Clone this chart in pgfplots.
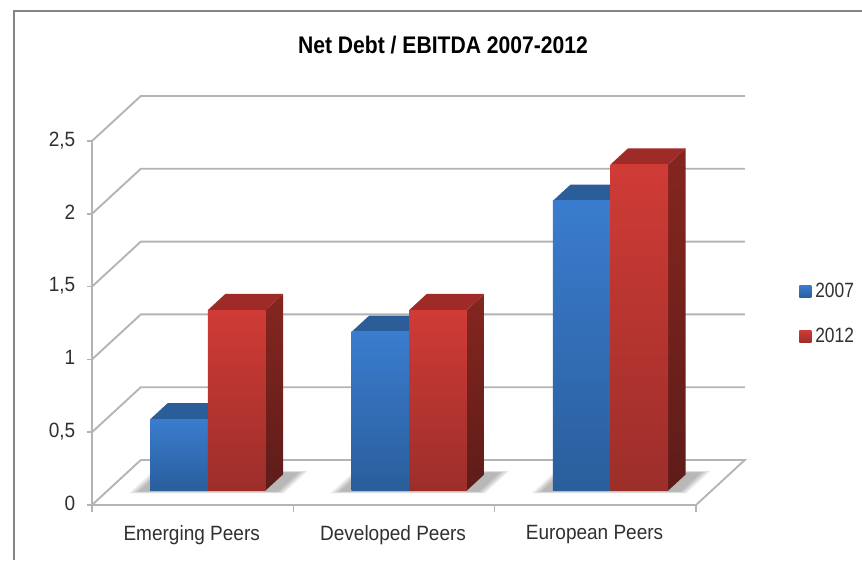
\documentclass[border=0pt]{standalone}
\usepackage{pgfplots}
\pgfplotsset{compat=1.18}
\usepackage{fontspec}
\setmainfont{Liberation Sans}
\newfontfamily\labelfont[FakeStretch=0.92]{Liberation Sans}
\newfontfamily\keyfont[FakeStretch=0.84]{Liberation Sans}
\newfontfamily\titlefont[FakeStretch=0.88]{Liberation Sans Bold}
\definecolor{gridgray}{HTML}{B4B4B4}
\definecolor{framegray}{HTML}{858585}
\definecolor{textgray}{HTML}{303030}
\definecolor{bluetop}{HTML}{3A7CCE}
\definecolor{bluebot}{HTML}{2A5E9C}
\definecolor{blueroof}{HTML}{2B5D98}
\definecolor{redtop}{HTML}{D03B36}
\definecolor{redbot}{HTML}{9C2E2A}
\definecolor{redroof}{HTML}{9E2B27}
\definecolor{sidetop}{HTML}{85261F}
\definecolor{sidebot}{HTML}{5E1C19}
% one pixel of the 862x560 canvas
\newlength{\px}\setlength{\px}{0.75pt}

% soft cast shadow on the floor between two x positions
\newcommand{\floorshadow}[2]{%
  \foreach \g in {0.000,0.008,0.016,0.024,0.032,0.040}{%
    \edef\temp{\noexpand\addplot3[forget plot, draw=none, fill=black, fill opacity=0.05]
      coordinates {(#1-\g,0.30-\g,0) (#2+\g,0.30-\g,0) (#2+\g,0.72+\g,0) (#1-\g,0.72+\g,0)} -- cycle;}%
    \temp
  }%
}
% one box: left x, right x, height, front top colour, roof colour,
% side top colour, side bottom colour, front bottom colour
\newcommand{\columnbox}[8]{%
  \addplot3[forget plot, draw=none, top color=#6, bottom color=#7]
    coordinates {(#2,0.32,0) (#2,0.68,0) (#2,0.68,#3) (#2,0.32,#3)} -- cycle;
  \addplot3[forget plot, draw=none, fill=#5]
    coordinates {(#1,0.32,#3) (#2,0.32,#3) (#2,0.68,#3) (#1,0.68,#3)} -- cycle;
  \addplot3[forget plot, draw=none, top color=#4, bottom color=#8]
    coordinates {(#1,0.32,0) (#2,0.32,0) (#2,0.32,#3) (#1,0.32,#3)} -- cycle;
}
\newcommand{\gridlevel}[1]{%
  \addplot3[forget plot, gridgray, line width=1.4pt]
    coordinates {(0,0,#1) (0,1,#1) (3,1,#1)};
}

\begin{document}
\begin{tikzpicture}[x=\px,y=\px]
\useasboundingbox (0,0) rectangle (862,560);
\fill[white] (0,0) rectangle (862,560);
\draw[framegray, line width=1.4pt] (14,0) -- (14,549) -- (862,549);
\node[font=\titlefont\fontsize{18pt}{20pt}\selectfont, text=black] at (443,514.5)
  {Net Debt / EBITDA 2007-2012};

\begin{axis}[
  at={(69pt,41.25pt)}, anchor=origin,
  x={(201.33*0.75pt,0pt)},
  y={(36.6pt,33.75pt)},
  z={(0pt,109.2pt)},
  xmin=0, xmax=3, ymin=0, ymax=1, zmin=0, zmax=2.5,
  clip=false,
  axis line style={draw=none},
  major tick style={draw=none},
  grid=none,
  xtick={0.5,1.5,2.5},
  xticklabels={Emerging Peers,Developed Peers,European Peers},
  ytick=\empty,
  ztick={0,0.5,1,1.5,2,2.5},
  zticklabels={0,{0,5},1,{1,5},2,{2,5}},
  tick label style={font=\labelfont\fontsize{15.5pt}{17pt}\selectfont, text=textgray},
  x tick label style={yshift=-12pt, xshift=4pt},
  z tick label style={xshift=-9pt, anchor=east, text height=11pt, text depth=3pt, yshift=0pt},
  legend style={draw=none, fill=none, at={(1.077,0.467)}, anchor=west,
    font=\keyfont\fontsize{15.5pt}{17pt}\selectfont, text=textgray,
    /tikz/every odd column/.append style={column sep=1pt},
    row sep=17pt},
  legend cell align=left,
]
% walls and floor
\addplot3[forget plot, gridgray, line width=1.4pt]
  coordinates {(0,1,0) (3,1,0) (3,0,0) (0,0,0) (0,1,0)};
\addplot3[forget plot, gridgray, line width=1.4pt]
  coordinates {(0,0,0) (0,0,2.5)};
\gridlevel{0.5}\gridlevel{1}\gridlevel{1.5}\gridlevel{2}\gridlevel{2.5}
% tick marks
\addplot3[forget plot, gridgray, line width=1.2pt] coordinates {(0,0,0) (0,0,-0.045)};
\addplot3[forget plot, gridgray, line width=1.2pt] coordinates {(1,0,0) (1,0,-0.045)};
\addplot3[forget plot, gridgray, line width=1.2pt] coordinates {(2,0,0) (2,0,-0.045)};
\addplot3[forget plot, gridgray, line width=1.2pt] coordinates {(3,0,0) (3,0,-0.045)};
\addplot3[forget plot, gridgray, line width=1.2pt] coordinates {(0,0,0) (-0.025,0,0)};
\addplot3[forget plot, gridgray, line width=1.2pt] coordinates {(0,0,0.5) (-0.025,0,0.5)};
\addplot3[forget plot, gridgray, line width=1.2pt] coordinates {(0,0,1) (-0.025,0,1)};
\addplot3[forget plot, gridgray, line width=1.2pt] coordinates {(0,0,1.5) (-0.025,0,1.5)};
\addplot3[forget plot, gridgray, line width=1.2pt] coordinates {(0,0,2) (-0.025,0,2)};
\addplot3[forget plot, gridgray, line width=1.2pt] coordinates {(0,0,2.5) (-0.025,0,2.5)};
% shadows
\floorshadow{0.16}{0.85}
\floorshadow{1.16}{1.85}
\floorshadow{2.16}{2.85}
% 2007 and 2012 columns per peer group
\columnbox{0.2116}{0.498}{0.49}{bluetop}{blueroof}{bluebot}{bluebot}{bluebot}
\columnbox{0.498}{0.784}{1.24}{redtop}{redroof}{sidetop}{sidebot}{redbot}
\columnbox{1.2116}{1.498}{1.09}{bluetop}{blueroof}{bluebot}{bluebot}{bluebot}
\columnbox{1.498}{1.784}{1.24}{redtop}{redroof}{sidetop}{sidebot}{redbot}
\columnbox{2.2116}{2.498}{1.99}{bluetop}{blueroof}{bluebot}{bluebot}{bluebot}
\columnbox{2.498}{2.784}{2.24}{redtop}{redroof}{sidetop}{sidebot}{redbot}
% legend keys
\addlegendimage{legend image code/.code={
  \path[draw=none, top color=bluetop, bottom color=bluebot] (0pt,-4.5pt) rectangle (9pt,4.5pt);}}
\addlegendentry{2007}
\addlegendimage{legend image code/.code={
  \path[draw=none, top color=redtop, bottom color=redbot] (0pt,-4.5pt) rectangle (9pt,4.5pt);}}
\addlegendentry{2012}
\end{axis}
\end{tikzpicture}
\end{document}
